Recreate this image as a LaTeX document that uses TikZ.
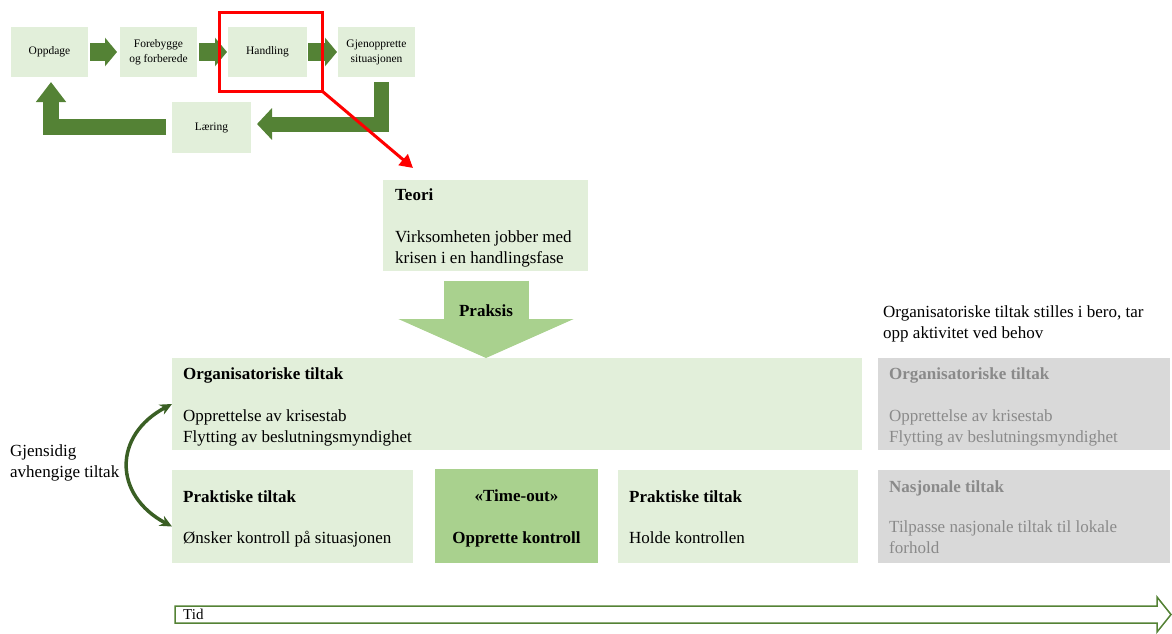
\documentclass[tikz,border=0pt]{standalone}
\usepackage{fontspec}
\setmainfont{Liberation Serif}
\usetikzlibrary{arrows.meta,calc}
\definecolor{lightgreen}{HTML}{E2EFDA}
\definecolor{midgreen}{HTML}{A9D18E}
\definecolor{darkgreen}{HTML}{548235}
\definecolor{deepgreen}{HTML}{3A5F24}
\definecolor{greybox}{HTML}{D9D9D9}
\definecolor{greytext}{HTML}{8A8A8A}
\newcommand{\bodyfont}{\fontsize{17}{21.5}\selectfont}
\newcommand{\smallfont}{\fontsize{11.5}{15}\selectfont}
\newcommand{\tidfont}{\fontsize{15}{18}\selectfont}

\begin{document}
\begin{tikzpicture}[x=1pt,y=-1pt,
  box/.style={rectangle, inner sep=0pt, outer sep=0pt, draw=none},
  topbox/.style={box, fill=lightgreen, minimum width=77pt, minimum height=50pt,
    font=\smallfont, align=center},
  greenbox/.style={box, fill=lightgreen},
  greybx/.style={box, fill=greybox},
  txt/.style={anchor=base west, inner sep=0pt, font=\bodyfont},
  ctxt/.style={anchor=base, inner sep=0pt, font=\bodyfont},
  fatarrow/.style={darkgreen, line width=18pt, -{Triangle[length=12pt,width=28pt]}},
  bentarrow/.style={darkgreen, line join=miter, line width=#1},
]
\useasboundingbox (0,0) rectangle (1172,633);

% --- process cycle ---
\node[topbox] (opp)  at (49.5,52)  {Oppdage};
\node[topbox] (fore) at (158.5,52) {Forebygge\\og forberede};
\node[topbox, minimum width=79pt] (hand) at (267.5,52) {Handling};
\node[topbox] (gjen) at (376.5,52) {Gjenopprette\\situasjonen};
\node[topbox, minimum width=79pt, minimum height=51pt] (laer) at (211.5,127.5) {Læring};

\draw[fatarrow] ($(opp.east)+(2,0)$)  -- ($(fore.west)+(-3,0)$);
\draw[fatarrow] ($(fore.east)+(2,0)$) -- ($(hand.west)+(-1,0)$);
\draw[fatarrow] ($(hand.east)+(1,0)$) -- ($(gjen.west)+(-1,0)$);

\draw[bentarrow=15pt, -{Triangle[length=15pt,width=31pt]}]
  ($(gjen.south)+(4.5,5)$) |- ($(laer.east)+(6,-3.5)$);
\draw[bentarrow=16pt, -{Triangle[length=20pt,width=29pt]}]
  ($(laer.west)+(-6,-0.5)$) -| ($(opp.south)+(1.5,5)$);

% --- highlight of the current phase ---
\node[box, draw=red, line width=3pt, minimum width=103pt, minimum height=79pt] (hl) at (270.5,51.5) {};
\coordinate (rtip) at (413,168);
\draw[red, line width=3pt, -{Triangle[length=13pt,width=14pt]}] (hl.south east) -- (rtip);

% --- theory / practice ---
\node[greenbox, minimum width=205pt, minimum height=91pt] (teori) at (485.5,225) {};
\node[txt, font=\bodyfont\bfseries] (teoriT) at (395,200) {Teori};
\node[txt] (teoriA) at (395,242) {Virksomheten jobber med};
\node[txt] (teoriB) at (395,263) {krisen i en handlingsfase};

\node[greenbox, minimum width=690pt, minimum height=92pt] (org) at (517,404) {};

\draw[midgreen, line width=85pt, -{Triangle[length=39pt,width=174pt]}]
  ($(teori.south)+(0.5,10)$) -- ($(teori.south |- org.north)+(0.5,0)$);
\node[ctxt, font=\bodyfont\bfseries] (praksis) at (486,316) {Praksis};

% --- measures ---
\node[txt, font=\bodyfont\bfseries] (orgT) at (183,379) {Organisatoriske tiltak};
\node[txt] (orgA) at (183,421) {Opprettelse av krisestab};
\node[txt] (orgB) at (183,442) {Flytting av beslutningsmyndighet};

\node[greenbox, minimum width=241pt, minimum height=93pt] (prak1) at (292.5,516.5) {};
\node[txt, font=\bodyfont\bfseries] (prak1T) at (183,502) {Praktiske tiltak};
\node[txt] (prak1A) at (183,543) {Ønsker kontroll på situasjonen};

\node[box, fill=midgreen, minimum width=163pt, minimum height=94pt] (tout) at (516.5,516) {};
\node[ctxt, font=\bodyfont\bfseries] (toutT) at (516.5,501) {«Time-out»};
\node[ctxt, font=\bodyfont\bfseries] (toutA) at (516.5,543) {Opprette kontroll};

\node[greenbox, minimum width=240pt, minimum height=93pt] (prak2) at (738,516.5) {};
\node[txt, font=\bodyfont\bfseries] (prak2T) at (629,502) {Praktiske tiltak};
\node[txt] (prak2A) at (629,543) {Holde kontrollen};

% --- measures on hold ---
\node[txt] (noteA) at (883,317) {Organisatoriske tiltak stilles i bero, tar};
\node[txt] (noteB) at (883,338) {opp aktivitet ved behov};

\node[greybx, minimum width=292pt, minimum height=92pt] (gorg) at (1024,404) {};
\node[txt, text=greytext, font=\bodyfont\bfseries] (gorgT) at (889,379) {Organisatoriske tiltak};
\node[txt, text=greytext] (gorgA) at (889,421) {Opprettelse av krisestab};
\node[txt, text=greytext] (gorgB) at (889,442) {Flytting av beslutningsmyndighet};

\node[greybx, minimum width=292pt, minimum height=93pt] (nasj) at (1024,516.5) {};
\node[txt, text=greytext, font=\bodyfont\bfseries] (nasjT) at (889,492) {Nasjonale tiltak};
\node[txt, text=greytext] (nasjA) at (889,532) {Tilpasse nasjonale tiltak til lokale};
\node[txt, text=greytext] (nasjB) at (889,553) {forhold};

% --- mutual dependency ---
\node[txt] (gjA) at (10,456) {Gjensidig};
\node[txt] (gjB) at (10,477) {avhengige tiltak};
\draw[deepgreen, line width=3.5pt,
  {Stealth[length=12pt,width=11pt]}-{Stealth[length=12pt,width=11pt]}]
  (org.west) .. controls (113,435) and (113,495) .. ($(prak1.west)+(0,10)$);

% --- time axis ---
\draw[darkgreen, line width=1.5pt, fill=white, line join=miter]
  (175,606) -- (1157,606) -- (1157,597) -- (1171,614.5) -- (1157,632)
  -- (1157,623) -- (175,623) -- cycle;
\node[anchor=base west, inner sep=0pt, font=\tidfont] (tid) at (183,619.5) {Tid};
\end{tikzpicture}
\end{document}
